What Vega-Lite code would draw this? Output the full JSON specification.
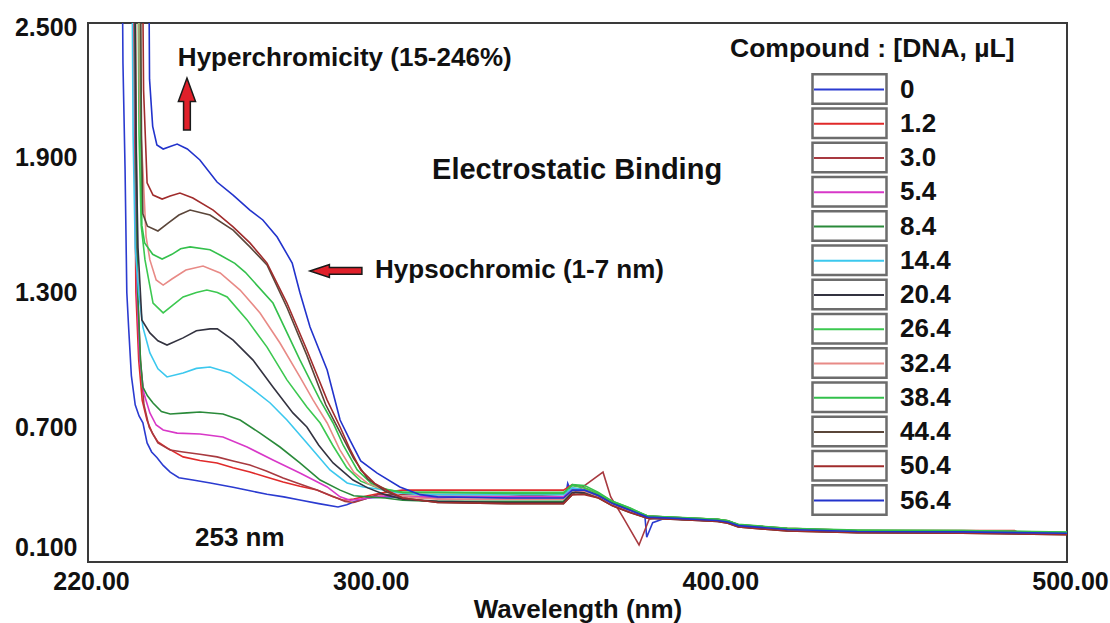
{
"$schema": "https://vega.github.io/schema/vega-lite/v6.json",
"width": 979, "height": 539,
"autosize": "none",
"padding": {"left": 88, "top": 23, "right": 43, "bottom": 61},
"background": "white",
"config": {"view": {"stroke": "#3a3a3a", "strokeWidth": 2}, "font": "Liberation Sans"},
"datasets": {
"spectra": [
{"c":"0","x":229.8,"y":2.75},{"c":"0","x":230.0,"y":2.32},{"c":"0","x":230.6,"y":1.85},{"c":"0","x":231.1,"y":1.3},{"c":"0","x":231.6,"y":1.15},{"c":"0","x":232.4,"y":0.93},{"c":"0","x":233.5,"y":0.8},{"c":"0","x":234.6,"y":0.75},{"c":"0","x":235.7,"y":0.72},{"c":"0","x":236.9,"y":0.63},{"c":"0","x":238.2,"y":0.59},{"c":"0","x":239.7,"y":0.565},{"c":"0","x":241.5,"y":0.53},{"c":"0","x":243.5,"y":0.5},{"c":"0","x":246,"y":0.475},{"c":"0","x":250,"y":0.465},{"c":"0","x":255,"y":0.452},{"c":"0","x":261.5,"y":0.433},{"c":"0","x":266,"y":0.418},{"c":"0","x":271.2,"y":0.402},{"c":"0","x":276,"y":0.39},{"c":"0","x":280.6,"y":0.376},{"c":"0","x":286,"y":0.36},{"c":"0","x":291.5,"y":0.345},{"c":"0","x":294,"y":0.355},{"c":"0","x":296.5,"y":0.37},{"c":"0","x":300,"y":0.385},{"c":"0","x":305,"y":0.39},{"c":"0","x":310,"y":0.39},{"c":"0","x":320,"y":0.385},{"c":"0","x":330,"y":0.39},{"c":"0","x":340,"y":0.385},{"c":"0","x":356.5,"y":0.385},{"c":"0","x":357.2,"y":0.45},{"c":"0","x":358,"y":0.42},{"c":"0","x":362,"y":0.41},{"c":"0","x":366,"y":0.39},{"c":"0","x":370,"y":0.355},{"c":"0","x":375,"y":0.325},{"c":"0","x":379.3,"y":0.3},{"c":"0","x":379.8,"y":0.21},{"c":"0","x":381.5,"y":0.275},{"c":"0","x":385,"y":0.295},{"c":"0","x":390,"y":0.293},{"c":"0","x":400,"y":0.285},{"c":"0","x":403,"y":0.278},{"c":"0","x":406,"y":0.26},{"c":"0","x":420,"y":0.245},{"c":"0","x":440,"y":0.236},{"c":"0","x":470,"y":0.234},{"c":"0","x":500,"y":0.228},

{"c":"1.2","x":233.0,"y":2.75},{"c":"1.2","x":233.3,"y":2.0},{"c":"1.2","x":233.7,"y":1.3},{"c":"1.2","x":234.5,"y":1.0},{"c":"1.2","x":235.5,"y":0.82},{"c":"1.2","x":236.9,"y":0.73},{"c":"1.2","x":238.5,"y":0.67},{"c":"1.2","x":240,"y":0.635},{"c":"1.2","x":242.6,"y":0.608},{"c":"1.2","x":247.2,"y":0.568},{"c":"1.2","x":252,"y":0.552},{"c":"1.2","x":256.9,"y":0.541},{"c":"1.2","x":261.5,"y":0.52},{"c":"1.2","x":266.3,"y":0.501},{"c":"1.2","x":271,"y":0.478},{"c":"1.2","x":275.8,"y":0.456},{"c":"1.2","x":280.6,"y":0.437},{"c":"1.2","x":285.5,"y":0.421},{"c":"1.2","x":290.1,"y":0.39},{"c":"1.2","x":293,"y":0.375},{"c":"1.2","x":296,"y":0.38},{"c":"1.2","x":300,"y":0.395},{"c":"1.2","x":305,"y":0.41},{"c":"1.2","x":310,"y":0.42},{"c":"1.2","x":320,"y":0.42},{"c":"1.2","x":340,"y":0.42},{"c":"1.2","x":356,"y":0.42},{"c":"1.2","x":358.5,"y":0.445},{"c":"1.2","x":362,"y":0.43},{"c":"1.2","x":366,"y":0.405},{"c":"1.2","x":370,"y":0.365},{"c":"1.2","x":375,"y":0.335},{"c":"1.2","x":380,"y":0.305},{"c":"1.2","x":390,"y":0.297},{"c":"1.2","x":400,"y":0.29},{"c":"1.2","x":403,"y":0.283},{"c":"1.2","x":406,"y":0.266},{"c":"1.2","x":420,"y":0.25},{"c":"1.2","x":440,"y":0.24},{"c":"1.2","x":470,"y":0.24},{"c":"1.2","x":485,"y":0.24},{"c":"1.2","x":486,"y":0.232},{"c":"1.2","x":500,"y":0.23},

{"c":"3.0","x":233.5,"y":2.75},{"c":"3.0","x":233.8,"y":2.0},{"c":"3.0","x":234.2,"y":1.3},{"c":"3.0","x":235,"y":1.0},{"c":"3.0","x":236,"y":0.8},{"c":"3.0","x":237.5,"y":0.7},{"c":"3.0","x":240,"y":0.63},{"c":"3.0","x":243.5,"y":0.599},{"c":"3.0","x":247.2,"y":0.59},{"c":"3.0","x":252,"y":0.58},{"c":"3.0","x":256.9,"y":0.568},{"c":"3.0","x":261.5,"y":0.55},{"c":"3.0","x":266.3,"y":0.532},{"c":"3.0","x":271,"y":0.505},{"c":"3.0","x":275.8,"y":0.474},{"c":"3.0","x":280.6,"y":0.447},{"c":"3.0","x":285.5,"y":0.421},{"c":"3.0","x":291.2,"y":0.385},{"c":"3.0","x":293.5,"y":0.37},{"c":"3.0","x":296,"y":0.365},{"c":"3.0","x":299,"y":0.38},{"c":"3.0","x":303,"y":0.4},{"c":"3.0","x":310,"y":0.4},{"c":"3.0","x":320,"y":0.4},{"c":"3.0","x":340,"y":0.4},{"c":"3.0","x":357.5,"y":0.39},{"c":"3.0","x":362,"y":0.44},{"c":"3.0","x":367.3,"y":0.5},{"c":"3.0","x":369.5,"y":0.39},{"c":"3.0","x":373,"y":0.3},{"c":"3.0","x":377.6,"y":0.176},{"c":"3.0","x":380.5,"y":0.29},{"c":"3.0","x":385,"y":0.3},{"c":"3.0","x":390,"y":0.29},{"c":"3.0","x":400,"y":0.283},{"c":"3.0","x":403,"y":0.276},{"c":"3.0","x":406,"y":0.26},{"c":"3.0","x":420,"y":0.243},{"c":"3.0","x":440,"y":0.234},{"c":"3.0","x":470,"y":0.232},{"c":"3.0","x":500,"y":0.226},

{"c":"5.4","x":233.2,"y":2.75},{"c":"5.4","x":233.5,"y":2.0},{"c":"5.4","x":234.0,"y":1.3},{"c":"5.4","x":234.8,"y":1.0},{"c":"5.4","x":236,"y":0.85},{"c":"5.4","x":237.7,"y":0.764},{"c":"5.4","x":239.5,"y":0.71},{"c":"5.4","x":241.5,"y":0.688},{"c":"5.4","x":245.5,"y":0.674},{"c":"5.4","x":252,"y":0.67},{"c":"5.4","x":258.6,"y":0.657},{"c":"5.4","x":265.5,"y":0.612},{"c":"5.4","x":272.9,"y":0.554},{"c":"5.4","x":280.6,"y":0.496},{"c":"5.4","x":288.4,"y":0.434},{"c":"5.4","x":292.1,"y":0.39},{"c":"5.4","x":295,"y":0.375},{"c":"5.4","x":298,"y":0.38},{"c":"5.4","x":302,"y":0.39},{"c":"5.4","x":306,"y":0.395},{"c":"5.4","x":310,"y":0.39},{"c":"5.4","x":320,"y":0.39},{"c":"5.4","x":340,"y":0.39},{"c":"5.4","x":356,"y":0.39},{"c":"5.4","x":358.5,"y":0.43},{"c":"5.4","x":362,"y":0.42},{"c":"5.4","x":366,"y":0.395},{"c":"5.4","x":370,"y":0.36},{"c":"5.4","x":375,"y":0.33},{"c":"5.4","x":380,"y":0.3},{"c":"5.4","x":390,"y":0.293},{"c":"5.4","x":400,"y":0.285},{"c":"5.4","x":403,"y":0.278},{"c":"5.4","x":406,"y":0.262},{"c":"5.4","x":420,"y":0.245},{"c":"5.4","x":440,"y":0.236},{"c":"5.4","x":470,"y":0.234},{"c":"5.4","x":500,"y":0.228},

{"c":"8.4","x":233.3,"y":2.75},{"c":"8.4","x":233.6,"y":2.0},{"c":"8.4","x":234.2,"y":1.3},{"c":"8.4","x":235,"y":1.0},{"c":"8.4","x":235.7,"y":0.879},{"c":"8.4","x":237,"y":0.84},{"c":"8.4","x":238.6,"y":0.808},{"c":"8.4","x":241,"y":0.77},{"c":"8.4","x":243.5,"y":0.759},{"c":"8.4","x":248.3,"y":0.764},{"c":"8.4","x":252,"y":0.768},{"c":"8.4","x":258.6,"y":0.759},{"c":"8.4","x":263.5,"y":0.732},{"c":"8.4","x":269.2,"y":0.674},{"c":"8.4","x":274.9,"y":0.612},{"c":"8.4","x":280.6,"y":0.541},{"c":"8.4","x":286.4,"y":0.465},{"c":"8.4","x":292.1,"y":0.42},{"c":"8.4","x":296,"y":0.395},{"c":"8.4","x":300,"y":0.39},{"c":"8.4","x":305,"y":0.385},{"c":"8.4","x":310,"y":0.375},{"c":"8.4","x":320,"y":0.37},{"c":"8.4","x":340,"y":0.37},{"c":"8.4","x":356,"y":0.37},{"c":"8.4","x":358.5,"y":0.42},{"c":"8.4","x":362,"y":0.42},{"c":"8.4","x":366,"y":0.4},{"c":"8.4","x":370,"y":0.365},{"c":"8.4","x":375,"y":0.335},{"c":"8.4","x":380,"y":0.305},{"c":"8.4","x":390,"y":0.297},{"c":"8.4","x":400,"y":0.29},{"c":"8.4","x":403,"y":0.283},{"c":"8.4","x":406,"y":0.266},{"c":"8.4","x":420,"y":0.248},{"c":"8.4","x":440,"y":0.238},{"c":"8.4","x":470,"y":0.236},{"c":"8.4","x":500,"y":0.23},

{"c":"14.4","x":232.6,"y":2.75},{"c":"14.4","x":232.9,"y":2.0},{"c":"14.4","x":233.5,"y":1.5},{"c":"14.4","x":234.5,"y":1.3},{"c":"14.4","x":235.7,"y":1.146},{"c":"14.4","x":237.7,"y":1.031},{"c":"14.4","x":240,"y":0.96},{"c":"14.4","x":242.6,"y":0.924},{"c":"14.4","x":247.2,"y":0.942},{"c":"14.4","x":251,"y":0.962},{"c":"14.4","x":254.9,"y":0.968},{"c":"14.4","x":260.6,"y":0.942},{"c":"14.4","x":266.3,"y":0.879},{"c":"14.4","x":272.1,"y":0.808},{"c":"14.4","x":276.9,"y":0.732},{"c":"14.4","x":282.6,"y":0.63},{"c":"14.4","x":289.2,"y":0.51},{"c":"14.4","x":294.1,"y":0.452},{"c":"14.4","x":298.7,"y":0.434},{"c":"14.4","x":303,"y":0.425},{"c":"14.4","x":308,"y":0.41},{"c":"14.4","x":315,"y":0.4},{"c":"14.4","x":340,"y":0.4},{"c":"14.4","x":356,"y":0.4},{"c":"14.4","x":358.5,"y":0.43},{"c":"14.4","x":362,"y":0.42},{"c":"14.4","x":366,"y":0.39},{"c":"14.4","x":370,"y":0.355},{"c":"14.4","x":375,"y":0.325},{"c":"14.4","x":380,"y":0.295},{"c":"14.4","x":390,"y":0.29},{"c":"14.4","x":400,"y":0.283},{"c":"14.4","x":403,"y":0.276},{"c":"14.4","x":406,"y":0.26},{"c":"14.4","x":420,"y":0.243},{"c":"14.4","x":440,"y":0.234},{"c":"14.4","x":470,"y":0.232},{"c":"14.4","x":500,"y":0.226},

{"c":"20.4","x":233.4,"y":2.75},{"c":"20.4","x":233.7,"y":2.0},{"c":"20.4","x":234.3,"y":1.5},{"c":"20.4","x":235.4,"y":1.178},{"c":"20.4","x":237.7,"y":1.12},{"c":"20.4","x":240,"y":1.085},{"c":"20.4","x":242.6,"y":1.066},{"c":"20.4","x":247.2,"y":1.098},{"c":"20.4","x":251,"y":1.13},{"c":"20.4","x":254.9,"y":1.138},{"c":"20.4","x":257,"y":1.138},{"c":"20.4","x":261.5,"y":1.088},{"c":"20.4","x":267.2,"y":0.999},{"c":"20.4","x":272.9,"y":0.879},{"c":"20.4","x":278.6,"y":0.764},{"c":"20.4","x":282.6,"y":0.701},{"c":"20.4","x":286,"y":0.62},{"c":"20.4","x":290.1,"y":0.541},{"c":"20.4","x":295.8,"y":0.465},{"c":"20.4","x":300,"y":0.43},{"c":"20.4","x":305,"y":0.4},{"c":"20.4","x":310,"y":0.38},{"c":"20.4","x":320,"y":0.37},{"c":"20.4","x":340,"y":0.365},{"c":"20.4","x":356,"y":0.365},{"c":"20.4","x":358.5,"y":0.41},{"c":"20.4","x":362,"y":0.41},{"c":"20.4","x":366,"y":0.39},{"c":"20.4","x":370,"y":0.355},{"c":"20.4","x":375,"y":0.325},{"c":"20.4","x":380,"y":0.3},{"c":"20.4","x":390,"y":0.29},{"c":"20.4","x":400,"y":0.283},{"c":"20.4","x":403,"y":0.276},{"c":"20.4","x":406,"y":0.258},{"c":"20.4","x":420,"y":0.24},{"c":"20.4","x":440,"y":0.232},{"c":"20.4","x":470,"y":0.23},{"c":"20.4","x":500,"y":0.224},

{"c":"26.4","x":234.3,"y":2.75},{"c":"26.4","x":234.6,"y":2.0},{"c":"26.4","x":235.2,"y":1.6},{"c":"26.4","x":236.3,"y":1.445},{"c":"26.4","x":238.6,"y":1.253},{"c":"26.4","x":241.5,"y":1.209},{"c":"26.4","x":244,"y":1.24},{"c":"26.4","x":247.2,"y":1.28},{"c":"26.4","x":251,"y":1.3},{"c":"26.4","x":254,"y":1.311},{"c":"26.4","x":257,"y":1.3},{"c":"26.4","x":259.8,"y":1.28},{"c":"26.4","x":265.5,"y":1.178},{"c":"26.4","x":271.2,"y":1.057},{"c":"26.4","x":276.9,"y":0.911},{"c":"26.4","x":282.6,"y":0.79},{"c":"26.4","x":286.4,"y":0.719},{"c":"26.4","x":290,"y":0.62},{"c":"26.4","x":294,"y":0.52},{"c":"26.4","x":298,"y":0.46},{"c":"26.4","x":303,"y":0.43},{"c":"26.4","x":310,"y":0.41},{"c":"26.4","x":320,"y":0.41},{"c":"26.4","x":340,"y":0.41},{"c":"26.4","x":356,"y":0.41},{"c":"26.4","x":358.5,"y":0.44},{"c":"26.4","x":362,"y":0.43},{"c":"26.4","x":366,"y":0.405},{"c":"26.4","x":370,"y":0.37},{"c":"26.4","x":375,"y":0.34},{"c":"26.4","x":380,"y":0.305},{"c":"26.4","x":390,"y":0.297},{"c":"26.4","x":400,"y":0.29},{"c":"26.4","x":403,"y":0.283},{"c":"26.4","x":406,"y":0.266},{"c":"26.4","x":420,"y":0.25},{"c":"26.4","x":440,"y":0.24},{"c":"26.4","x":470,"y":0.24},{"c":"26.4","x":500,"y":0.232},

{"c":"32.4","x":234.5,"y":2.75},{"c":"32.4","x":234.8,"y":2.1},{"c":"32.4","x":235.7,"y":1.85},{"c":"32.4","x":236.6,"y":1.55},{"c":"32.4","x":237.7,"y":1.445},{"c":"32.4","x":239.5,"y":1.356},{"c":"32.4","x":241.5,"y":1.333},{"c":"32.4","x":244,"y":1.36},{"c":"32.4","x":248,"y":1.4},{"c":"32.4","x":252.9,"y":1.418},{"c":"32.4","x":257.8,"y":1.387},{"c":"32.4","x":263.5,"y":1.311},{"c":"32.4","x":269.2,"y":1.209},{"c":"32.4","x":274.9,"y":1.075},{"c":"32.4","x":280.6,"y":0.924},{"c":"32.4","x":284.4,"y":0.821},{"c":"32.4","x":288.4,"y":0.719},{"c":"32.4","x":292,"y":0.6},{"c":"32.4","x":296,"y":0.5},{"c":"32.4","x":300,"y":0.45},{"c":"32.4","x":305,"y":0.42},{"c":"32.4","x":310,"y":0.39},{"c":"32.4","x":320,"y":0.38},{"c":"32.4","x":340,"y":0.38},{"c":"32.4","x":356,"y":0.38},{"c":"32.4","x":358.5,"y":0.42},{"c":"32.4","x":362,"y":0.415},{"c":"32.4","x":366,"y":0.39},{"c":"32.4","x":370,"y":0.355},{"c":"32.4","x":375,"y":0.325},{"c":"32.4","x":380,"y":0.297},{"c":"32.4","x":390,"y":0.29},{"c":"32.4","x":400,"y":0.283},{"c":"32.4","x":403,"y":0.276},{"c":"32.4","x":406,"y":0.26},{"c":"32.4","x":420,"y":0.243},{"c":"32.4","x":440,"y":0.234},{"c":"32.4","x":470,"y":0.232},{"c":"32.4","x":500,"y":0.226},

{"c":"38.4","x":234.9,"y":2.75},{"c":"38.4","x":235.1,"y":2.0},{"c":"38.4","x":235.4,"y":1.6},{"c":"38.4","x":236.2,"y":1.521},{"c":"38.4","x":238.5,"y":1.47},{"c":"38.4","x":241.2,"y":1.449},{"c":"38.4","x":244,"y":1.47},{"c":"38.4","x":246.5,"y":1.495},{"c":"38.4","x":249.2,"y":1.503},{"c":"38.4","x":254.9,"y":1.49},{"c":"38.4","x":258,"y":1.465},{"c":"38.4","x":262,"y":1.43},{"c":"38.4","x":265,"y":1.39},{"c":"38.4","x":272.9,"y":1.253},{"c":"38.4","x":280.6,"y":1.0},{"c":"38.4","x":286.4,"y":0.821},{"c":"38.4","x":290.1,"y":0.719},{"c":"38.4","x":293,"y":0.62},{"c":"38.4","x":297,"y":0.51},{"c":"38.4","x":301,"y":0.45},{"c":"38.4","x":306,"y":0.42},{"c":"38.4","x":310,"y":0.41},{"c":"38.4","x":320,"y":0.41},{"c":"38.4","x":340,"y":0.405},{"c":"38.4","x":356,"y":0.405},{"c":"38.4","x":358.5,"y":0.445},{"c":"38.4","x":362,"y":0.44},{"c":"38.4","x":366,"y":0.41},{"c":"38.4","x":370,"y":0.37},{"c":"38.4","x":375,"y":0.34},{"c":"38.4","x":380,"y":0.305},{"c":"38.4","x":390,"y":0.298},{"c":"38.4","x":400,"y":0.29},{"c":"38.4","x":403,"y":0.283},{"c":"38.4","x":406,"y":0.268},{"c":"38.4","x":420,"y":0.25},{"c":"38.4","x":440,"y":0.242},{"c":"38.4","x":470,"y":0.24},{"c":"38.4","x":500,"y":0.233},

{"c":"44.4","x":235.0,"y":2.75},{"c":"44.4","x":235.3,"y":2.0},{"c":"44.4","x":235.7,"y":1.65},{"c":"44.4","x":237,"y":1.595},{"c":"44.4","x":240,"y":1.574},{"c":"44.4","x":243,"y":1.61},{"c":"44.4","x":246,"y":1.645},{"c":"44.4","x":249.2,"y":1.667},{"c":"44.4","x":254.9,"y":1.645},{"c":"44.4","x":261.5,"y":1.578},{"c":"44.4","x":266.3,"y":1.503},{"c":"44.4","x":271.2,"y":1.423},{"c":"44.4","x":277,"y":1.23},{"c":"44.4","x":282.6,"y":1.02},{"c":"44.4","x":288,"y":0.8},{"c":"44.4","x":292,"y":0.68},{"c":"44.4","x":296,"y":0.56},{"c":"44.4","x":300,"y":0.47},{"c":"44.4","x":305,"y":0.415},{"c":"44.4","x":310,"y":0.385},{"c":"44.4","x":320,"y":0.365},{"c":"44.4","x":340,"y":0.36},{"c":"44.4","x":356,"y":0.36},{"c":"44.4","x":358.5,"y":0.4},{"c":"44.4","x":362,"y":0.405},{"c":"44.4","x":366,"y":0.385},{"c":"44.4","x":370,"y":0.35},{"c":"44.4","x":375,"y":0.32},{"c":"44.4","x":380,"y":0.295},{"c":"44.4","x":390,"y":0.288},{"c":"44.4","x":400,"y":0.28},{"c":"44.4","x":403,"y":0.273},{"c":"44.4","x":406,"y":0.256},{"c":"44.4","x":420,"y":0.238},{"c":"44.4","x":440,"y":0.23},{"c":"44.4","x":470,"y":0.228},{"c":"44.4","x":500,"y":0.222},

{"c":"50.4","x":235.6,"y":2.75},{"c":"50.4","x":235.9,"y":2.2},{"c":"50.4","x":236.9,"y":1.788},{"c":"50.4","x":238.6,"y":1.734},{"c":"50.4","x":241.2,"y":1.716},{"c":"50.4","x":243.5,"y":1.73},{"c":"50.4","x":246.3,"y":1.743},{"c":"50.4","x":250,"y":1.721},{"c":"50.4","x":255.8,"y":1.667},{"c":"50.4","x":261.5,"y":1.592},{"c":"50.4","x":266.3,"y":1.521},{"c":"50.4","x":271.2,"y":1.431},{"c":"50.4","x":276.9,"y":1.253},{"c":"50.4","x":282.6,"y":1.044},{"c":"50.4","x":288.4,"y":0.821},{"c":"50.4","x":292.1,"y":0.701},{"c":"50.4","x":295,"y":0.6},{"c":"50.4","x":298,"y":0.51},{"c":"50.4","x":302,"y":0.45},{"c":"50.4","x":306,"y":0.415},{"c":"50.4","x":310,"y":0.385},{"c":"50.4","x":320,"y":0.365},{"c":"50.4","x":340,"y":0.36},{"c":"50.4","x":356,"y":0.36},{"c":"50.4","x":358.5,"y":0.4},{"c":"50.4","x":362,"y":0.4},{"c":"50.4","x":366,"y":0.385},{"c":"50.4","x":370,"y":0.35},{"c":"50.4","x":375,"y":0.32},{"c":"50.4","x":380,"y":0.295},{"c":"50.4","x":390,"y":0.288},{"c":"50.4","x":400,"y":0.28},{"c":"50.4","x":403,"y":0.273},{"c":"50.4","x":406,"y":0.256},{"c":"50.4","x":420,"y":0.238},{"c":"50.4","x":440,"y":0.23},{"c":"50.4","x":470,"y":0.228},{"c":"50.4","x":500,"y":0.222},

{"c":"56.4","x":237.4,"y":2.75},{"c":"56.4","x":237.6,"y":2.25},{"c":"56.4","x":238.5,"y":2.04},{"c":"56.4","x":239.7,"y":1.957},{"c":"56.4","x":241.5,"y":1.939},{"c":"56.4","x":243.5,"y":1.95},{"c":"56.4","x":245.5,"y":1.961},{"c":"56.4","x":248.4,"y":1.939},{"c":"56.4","x":252,"y":1.89},{"c":"56.4","x":256.9,"y":1.792},{"c":"56.4","x":261.5,"y":1.734},{"c":"56.4","x":266.3,"y":1.667},{"c":"56.4","x":270,"y":1.623},{"c":"56.4","x":274.1,"y":1.547},{"c":"56.4","x":278.4,"y":1.431},{"c":"56.4","x":280.6,"y":1.3},{"c":"56.4","x":283.5,"y":1.146},{"c":"56.4","x":288.4,"y":0.955},{"c":"56.4","x":292.1,"y":0.732},{"c":"56.4","x":295,"y":0.64},{"c":"56.4","x":298,"y":0.55},{"c":"56.4","x":302.7,"y":0.496},{"c":"56.4","x":309.2,"y":0.434},{"c":"56.4","x":315,"y":0.4},{"c":"56.4","x":320,"y":0.39},{"c":"56.4","x":340,"y":0.385},{"c":"56.4","x":356,"y":0.385},{"c":"56.4","x":358.5,"y":0.42},{"c":"56.4","x":362,"y":0.42},{"c":"56.4","x":366,"y":0.395},{"c":"56.4","x":370,"y":0.36},{"c":"56.4","x":375,"y":0.33},{"c":"56.4","x":380,"y":0.3},{"c":"56.4","x":390,"y":0.293},{"c":"56.4","x":400,"y":0.285},{"c":"56.4","x":403,"y":0.278},{"c":"56.4","x":406,"y":0.262},{"c":"56.4","x":420,"y":0.245},{"c":"56.4","x":440,"y":0.236},{"c":"56.4","x":470,"y":0.234},{"c":"56.4","x":500,"y":0.228}
],
"keys": [
{"c":"0","x":600,"y":1},{"c":"1.2","x":600,"y":1},{"c":"3.0","x":600,"y":1},{"c":"5.4","x":600,"y":1},{"c":"8.4","x":600,"y":1},{"c":"14.4","x":600,"y":1},{"c":"20.4","x":600,"y":1},{"c":"26.4","x":600,"y":1},{"c":"32.4","x":600,"y":1},{"c":"38.4","x":600,"y":1},{"c":"44.4","x":600,"y":1},{"c":"50.4","x":600,"y":1},{"c":"56.4","x":600,"y":1}
],
"notes": [
{"label":"Hyperchromicity (15-246%)","x":245.7,"y":2.344},
{"label":"Hypsochromic (1-7 nm)","x":302.1,"y":1.40},
{"label":"253 nm","x":250.6,"y":0.207}
],
"notes2": [
{"label":"Electrostatic Binding","x":318.4,"y":1.845}
],
"upArrow": [{"x":248.3,"y":2.139}],
"leftArrow": [{"x":290.9,"y":1.396}]
},
"encoding": {
"x": {"field":"x","type":"quantitative","title":"Wavelength (nm)",
 "scale":{"domain":[220,500],"nice":false,"zero":false},
 "axis":{"values":[220,300,400,500],"format":".2f","labelFont":"Liberation Sans","labelFontSize":25,"labelFontWeight":"bold","labelColor":"#111","labelPadding":7,"labelOffset":3,"labelFlush":false,"labelOverlap":false,"ticks":false,"domain":false,"grid":false,"titleFont":"Liberation Sans","titleFontSize":26,"titleFontWeight":"bold","titleColor":"#111","titleY":55,"titleBaseline":"alphabetic"}},
"y": {"field":"y","type":"quantitative","title":null,
 "scale":{"domain":[0.1,2.5],"nice":false,"zero":false},
 "axis":{"values":[0.1,0.7,1.3,1.9,2.5],"format":".3f","labelFont":"Liberation Sans","labelFontSize":25,"labelFontWeight":"bold","labelColor":"#111","labelPadding":11,"labelFlush":false,"labelOverlap":false,
  "labelOffset":{"condition":[{"test":"datum.value < 0.2","value":-15},{"test":"datum.value > 2.4","value":4}],"value":0},
  "ticks":false,"domain":false,"grid":false}}
},
"layer": [
{"data":{"name":"spectra"},
 "mark":{"type":"line","clip":true,"strokeWidth":1.6},
 "encoding":{"color":{"field":"c","type":"nominal",
  "scale":{"domain":["0","1.2","3.0","5.4","8.4","14.4","20.4","26.4","32.4","38.4","44.4","50.4","56.4"],
   "range":["#2b3bd0","#e02a2a","#a83a40","#d838c8","#2a8a3a","#3cc8ee","#333340","#3cc850","#e88a86","#34c04c","#5b463a","#a02c2c","#2233cc"]},
  "legend":{"orient":"none","legendX":642,"legendY":13,"title":"Compound : [DNA, µL]","titleFont":"Liberation Sans","titleFontSize":26.5,"titleFontWeight":"bold","titleColor":"#111","titleAnchor":"start","titlePadding":10,"titleLimit":400,
   "labelFont":"Liberation Sans","labelFontSize":26,"labelFontWeight":"bold","labelColor":"#111","labelLimit":200,
   "symbolType":"stroke","symbolSize":4900,"symbolStrokeWidth":2,"symbolOffset":83,"labelOffset":15,"clipHeight":34,"rowPadding":0.25,"padding":0}}}},
{"data":{"name":"keys"},
 "mark":{"type":"point","clip":true,"filled":false,"color":"#333","strokeWidth":2.5},
 "encoding":{"shape":{"field":"c","type":"nominal","sort":null,
  "scale":{"range":["M-1,-0.4H1V0.4H-1Z"]},
  "legend":{"orient":"none","legendX":642,"legendY":49,"title":null,"labelFontSize":24,"labelExpr":"''",
   "symbolSize":5476,"symbolStrokeWidth":2.5,"symbolStrokeColor":"#2e2e2e","symbolFillColor":"transparent","symbolOffset":81,"clipHeight":34,"rowPadding":0.25,"padding":0}}}},
{"data":{"name":"notes"},
 "mark":{"type":"text","align":"left","baseline":"middle","font":"Liberation Sans","fontSize":26,"fontWeight":"bold","color":"#111"},
 "encoding":{"text":{"field":"label"}}},
{"data":{"name":"notes2"},
 "mark":{"type":"text","align":"left","baseline":"middle","font":"Liberation Sans","fontSize":29,"fontWeight":"bold","color":"#111"},
 "encoding":{"text":{"field":"label"}}},
{"data":{"name":"upArrow"},
 "mark":{"type":"point","shape":"M0,-1L0.33,-0.1L0.13,-0.1L0.13,1L-0.13,1L-0.13,-0.1L-0.33,-0.1Z","size":2704,"filled":true,"fill":"#e0202a","stroke":"#1a1a1a","strokeWidth":1.5,"opacity":1}},
{"data":{"name":"leftArrow"},
 "mark":{"type":"point","shape":"M-1,0L-0.25,-0.25L-0.25,-0.13L1,-0.13L1,0.13L-0.25,0.13L-0.25,0.25Z","size":2704,"filled":true,"fill":"#e0202a","stroke":"#1a1a1a","strokeWidth":1.5,"opacity":1}}
]
}
